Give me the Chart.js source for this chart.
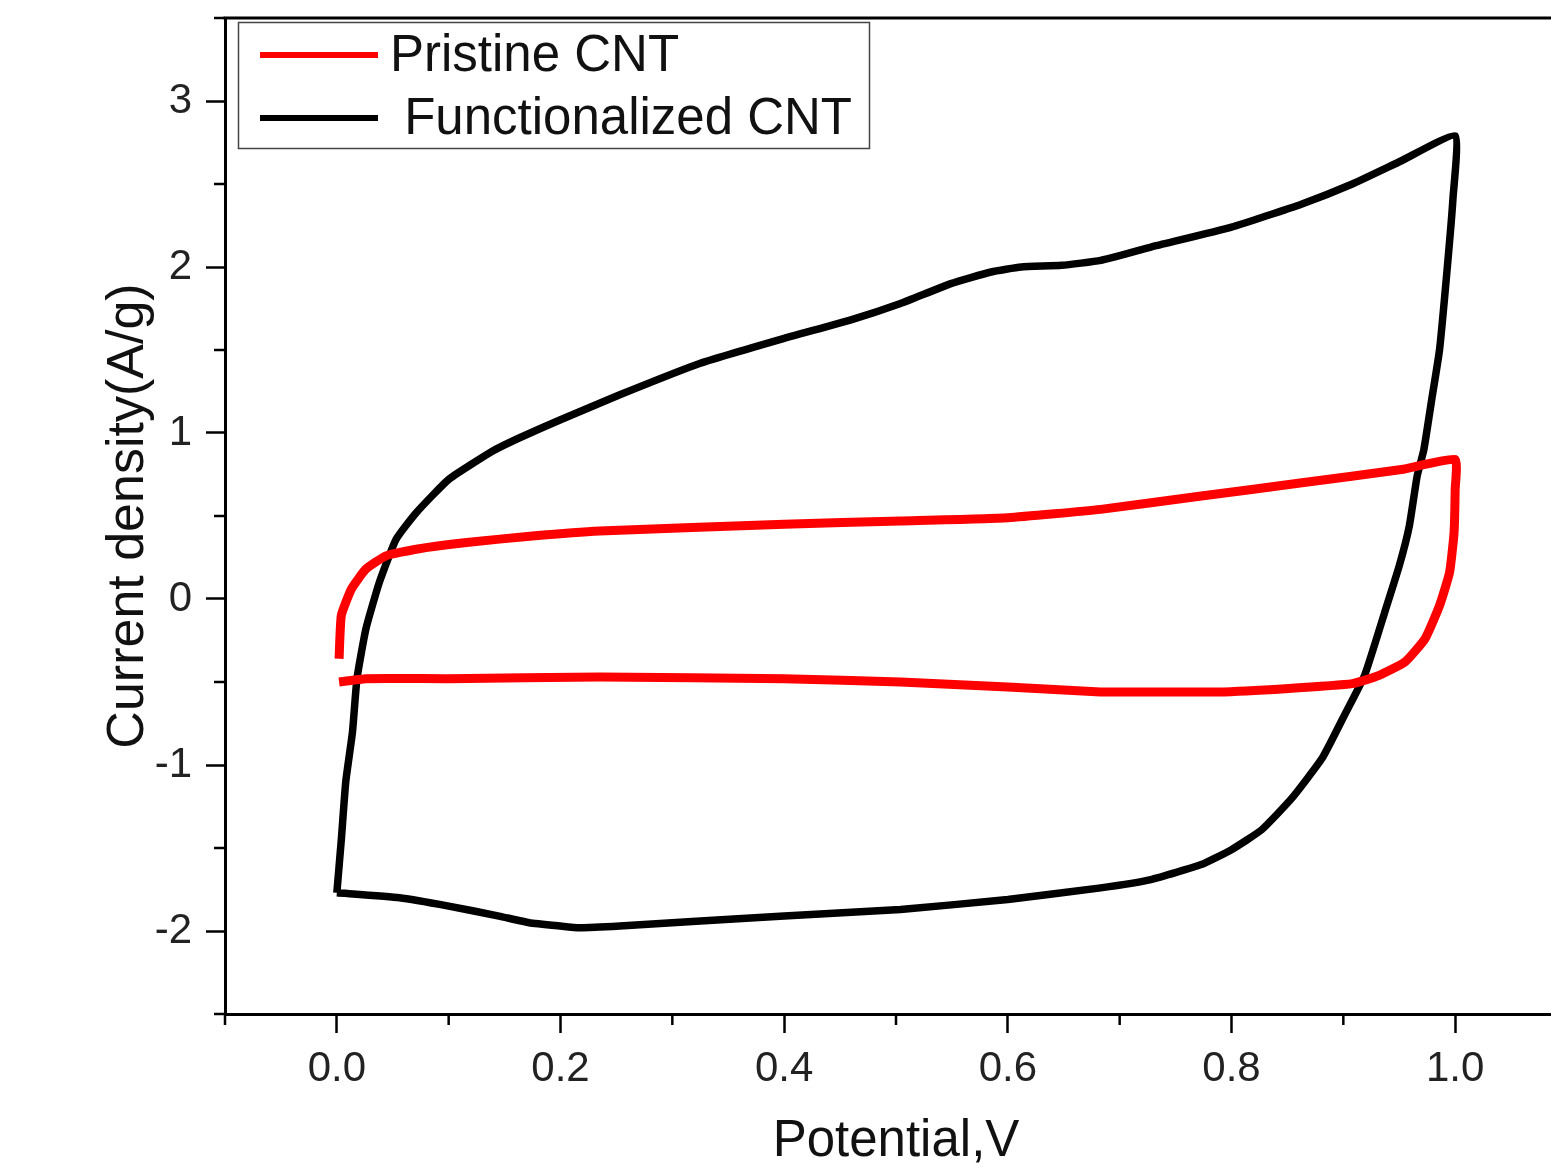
<!DOCTYPE html>
<html>
<head>
<meta charset="utf-8">
<script src="https://cdn.jsdelivr.net/npm/chart.js@4"></script>
<style>
  html, body { margin: 0; padding: 0; background: #fff; overflow: hidden; }
  canvas { display: block; }
</style>
</head>
<body>
<canvas id="cv" width="1568" height="1175"></canvas>
<script>
// Functionalized CNT loop (anodic sweep then back)
const funcX = [0.000, 0.004, 0.008, 0.014, 0.018, 0.026, 0.038, 0.053, 0.071, 0.100, 0.139, 0.163, 0.200, 0.253, 0.325, 0.400, 0.459, 0.504, 0.549, 0.585, 0.612, 0.648, 0.683, 0.728, 0.800, 0.863, 0.908, 0.952, 1.000,
               0.998, 0.993, 0.986, 0.979, 0.972, 0.966, 0.959, 0.950, 0.937, 0.919, 0.901, 0.881, 0.854, 0.827, 0.800, 0.773, 0.728, 0.683, 0.600, 0.504, 0.400, 0.325, 0.253, 0.217, 0.200, 0.172, 0.145, 0.100, 0.056, 0.000];
const funcY = [-1.77, -1.45, -1.10, -0.80, -0.48, -0.18, 0.10, 0.36, 0.52, 0.72, 0.89, 0.97, 1.08, 1.23, 1.42, 1.57, 1.68, 1.78, 1.90, 1.97, 2.00, 2.01, 2.04, 2.12, 2.24, 2.38, 2.50, 2.64, 2.79,
               2.41, 2.00, 1.50, 1.20, 0.90, 0.74, 0.44, 0.20, -0.08, -0.46, -0.70, -0.96, -1.20, -1.39, -1.51, -1.60, -1.69, -1.74, -1.81, -1.87, -1.91, -1.94, -1.97, -1.98, -1.97, -1.95, -1.91, -1.85, -1.80, -1.77];

// Pristine CNT loop
const pristX = [0.002, 0.004, 0.013, 0.026, 0.044, 0.071, 0.116, 0.175, 0.235, 0.400, 0.504, 0.600, 0.683, 0.773, 0.863, 0.952, 1.000,
                1.000, 0.999, 0.995, 0.986, 0.973, 0.955, 0.932, 0.908, 0.848, 0.788, 0.728, 0.683, 0.600, 0.504, 0.400, 0.235, 0.100, 0.026, 0.002];
const pristY = [-0.36, -0.10, 0.06, 0.18, 0.26, 0.30, 0.34, 0.38, 0.41, 0.45, 0.47, 0.49, 0.54, 0.62, 0.70, 0.78, 0.84,
                0.66, 0.40, 0.16, -0.04, -0.24, -0.38, -0.46, -0.51, -0.54, -0.56, -0.56, -0.56, -0.53, -0.50, -0.48, -0.47, -0.48, -0.48, -0.50];

const seriesNames = ['Pristine CNT', ' Functionalized CNT'];
const seriesColors = ['#ff0000', '#000000'];

const xMajorTicks = [0, 0.2, 0.4, 0.6, 0.8, 1.0];
const xMinorTicks = [-0.1, 0.1, 0.3, 0.5, 0.7, 0.9, 1.1];
const yMajorTicks = [-2, -1, 0, 1, 2, 3];
const yMinorTicks = [-2.5, -1.5, -0.5, 0.5, 1.5, 2.5, 3.5];

const FONT = '"Liberation Sans", Arial, sans-serif';
const toPts = (xs, ys) => xs.map((x, i) => ({ x, y: ys[i] }));

const frame = {
  id: 'frame',
  afterDraw(chart) {
    const { ctx, chartArea: a, scales: { x, y } } = chart;
    ctx.save();
    ctx.strokeStyle = '#000';
    ctx.lineWidth = 3;
    ctx.beginPath();
    ctx.moveTo(a.left - 1.5, a.top);
    ctx.lineTo(a.right, a.top);
    ctx.lineTo(a.right, a.bottom);
    ctx.stroke();
    // minor ticks
    ctx.lineWidth = 2.5;
    ctx.beginPath();
    xMinorTicks.forEach(v => {
      const px = x.getPixelForValue(v);
      ctx.moveTo(px, a.bottom);
      ctx.lineTo(px, a.bottom + 11);
    });
    yMinorTicks.forEach(v => {
      const py = y.getPixelForValue(v);
      ctx.moveTo(a.left, py);
      ctx.lineTo(a.left - 11, py);
    });
    ctx.stroke();

    // legend box
    ctx.lineWidth = 1.5;
    ctx.strokeStyle = '#444';
    ctx.fillStyle = '#fff';
    ctx.fillRect(238.5, 22.5, 631, 126);
    ctx.strokeRect(238.5, 22.5, 631, 126);
    ctx.font = '51px ' + FONT;
    ctx.textBaseline = 'middle';
    const rows = [55, 118];
    chart.data.datasets.forEach((ds, i) => {
      ctx.strokeStyle = ds.borderColor;
      ctx.lineWidth = 6;
      ctx.beginPath();
      ctx.moveTo(260, rows[i]);
      ctx.lineTo(378, rows[i]);
      ctx.stroke();
      ctx.fillStyle = '#111';
      ctx.fillText(ds.label, 390, rows[i] + 2);
    });
    ctx.restore();
  }
};

new Chart(document.getElementById('cv'), {
  type: 'scatter',
  data: {
    datasets: [
      {
        label: seriesNames[0],
        data: toPts(pristX, pristY),
        showLine: true,
        borderColor: seriesColors[0],
        borderWidth: 9,
        pointRadius: 0,
        tension: 0.15,
        borderJoinStyle: 'round'
      },
      {
        label: seriesNames[1],
        data: toPts(funcX, funcY),
        showLine: true,
        borderColor: seriesColors[1],
        borderWidth: 7.5,
        pointRadius: 0,
        tension: 0.15,
        borderJoinStyle: 'round'
      }
    ]
  },
  options: {
    responsive: false,
    animation: false,
    layout: { padding: { top: 18, right: 1, left: 0, bottom: 0 } },
    plugins: { legend: { display: false }, tooltip: { enabled: false } },
    scales: {
      x: {
        type: 'linear',
        min: -0.1,
        max: 1.1,
        afterFit: s => { s.height = 161; s.paddingLeft = 0; s.paddingRight = 0; },
        afterBuildTicks: s => { s.ticks = xMajorTicks.map(v => ({ value: v })); },
        border: { display: true, color: '#000', width: 3 },
        grid: { drawOnChartArea: false, tickLength: 19, tickWidth: 2.5, tickColor: '#000' },
        ticks: {
          padding: 11,
          color: '#222',
          font: { family: FONT, size: 42 },
          maxRotation: 0,
          callback: v => Number(v).toFixed(1)
        },
        title: {
          display: true,
          text: 'Potential,V',
          color: '#111',
          font: { family: FONT, size: 51 },
          padding: { top: 0, bottom: 2 }
        }
      },
      y: {
        type: 'linear',
        min: -2.5,
        max: 3.5,
        afterFit: s => { s.width = 225; s.paddingTop = 0; s.paddingBottom = 0; },
        afterBuildTicks: s => { s.ticks = yMajorTicks.map(v => ({ value: v })); },
        border: { display: true, color: '#000', width: 3 },
        grid: { drawOnChartArea: false, tickLength: 19, tickWidth: 2.5, tickColor: '#000' },
        ticks: {
          padding: 14,
          color: '#222',
          font: { family: FONT, size: 42 },
          callback: v => String(Math.round(v))
        },
        title: {
          display: true,
          text: 'Current density(A/g)',
          color: '#111',
          font: { family: FONT, size: 52 },
          padding: { top: 97, bottom: 0 }
        }
      }
    }
  },
  plugins: [frame]
});
</script>
</body>
</html>
